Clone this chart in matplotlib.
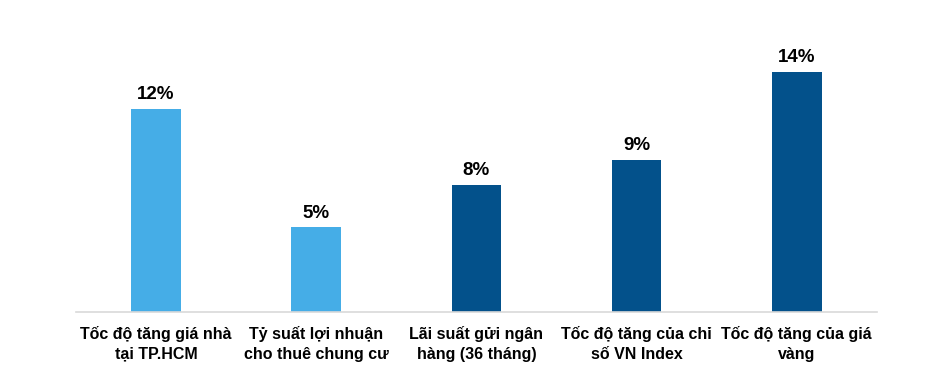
import matplotlib
matplotlib.use("Agg")
import matplotlib.pyplot as plt

# categories and values (percent)
categories = [
    "Tốc độ tăng giá nhà\ntại TP.HCM",
    "Tỷ suất lợi nhuận\ncho thuê chung cư",
    "Lãi suất gửi ngân\nhàng (36 tháng)",
    "Tốc độ tăng của chỉ\nsố VN Index",
    "Tốc độ tăng của giá\nvàng",
]
values = [12.0, 5.0, 7.5, 9.0, 14.2]
value_labels = ["12%", "5%", "8%", "9%", "14%"]
bar_colors = ["#45ADE7", "#45ADE7", "#03518B", "#03518B", "#03518B"]

plt.rcParams["font.family"] = ["Liberation Sans", "DejaVu Sans"]

fig = plt.figure(figsize=(9.25, 3.75), dpi=100)
ax = fig.add_axes([0.082, 0.168, 0.866, 0.832])

x = list(range(len(categories)))
bars = ax.bar(x, values, width=0.31, color=bar_colors, zorder=2)

for b, lab in zip(bars, value_labels):
    ax.text(b.get_x() + b.get_width() / 2, b.get_height() + 0.35, lab,
            ha="center", va="bottom", fontsize=13.5, fontweight="bold",
            color="black")

ax.set_xlim(-0.5, len(categories) - 0.5)
ax.set_ylim(0, 18.46)
ax.set_xticks(x)
ax.set_xticklabels(categories, fontsize=11.5, fontweight="bold",
                   linespacing=1.4)
ax.tick_params(axis="x", length=0, pad=10)
ax.set_yticks([])

for s in ["top", "right", "left"]:
    ax.spines[s].set_visible(False)
ax.spines["bottom"].set_color("#D9D9D9")
ax.spines["bottom"].set_linewidth(1.2)

fig.savefig("out.png", dpi=100)
